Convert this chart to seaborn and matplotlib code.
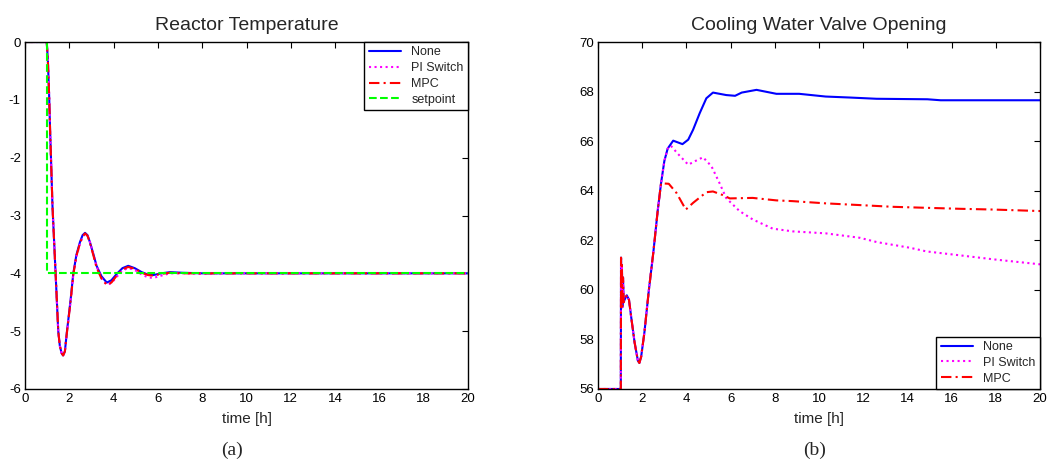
import matplotlib
matplotlib.use("Agg")
import matplotlib.pyplot as plt
import seaborn as sns

# ---- (a) reactor temperature ----
temp_t_none = [0, 0.98, 1.03, 1.09, 1.13, 1.18, 1.24, 1.32, 1.38, 1.44, 1.50, 1.57, 1.65, 1.72,
               1.80, 1.88, 1.97, 2.06, 2.18, 2.32, 2.48, 2.60, 2.71, 2.82, 2.93, 3.08, 3.23,
               3.45, 3.69, 3.90, 4.14, 4.40, 4.66, 4.95, 5.27, 5.55, 5.79, 6.15, 6.55, 7.10,
               8.0, 9.0, 20.0]
temp_none = [0, 0, -0.30, -0.94, -1.50, -2.10, -2.84, -3.50, -4.00, -4.50, -5.00, -5.25, -5.38,
             -5.42, -5.35, -5.05, -4.75, -4.45, -4.00, -3.68, -3.46, -3.34, -3.30, -3.34, -3.46,
             -3.66, -3.87, -4.05, -4.16, -4.12, -4.01, -3.91, -3.87, -3.91, -3.98, -4.02, -4.03,
             -4.00, -3.98, -3.99, -4.0, -4.0, -4.0]
temp_pi = [0, 0, -0.30, -0.94, -1.50, -2.10, -2.84, -3.50, -4.00, -4.50, -5.00, -5.25, -5.38,
           -5.42, -5.35, -5.06, -4.77, -4.48, -4.03, -3.71, -3.49, -3.37, -3.32, -3.35, -3.46,
           -3.66, -3.88, -4.08, -4.20, -4.17, -4.06, -3.95, -3.91, -3.94, -4.02, -4.07, -4.08,
           -4.04, -4.00, -4.00, -4.01, -4.0, -4.0]
temp_mpc = [0, 0, -0.30, -0.94, -1.50, -2.10, -2.84, -3.50, -4.00, -4.50, -5.00, -5.25, -5.38,
            -5.42, -5.35, -5.06, -4.77, -4.47, -4.02, -3.70, -3.48, -3.36, -3.31, -3.35, -3.47,
            -3.68, -3.90, -4.09, -4.20, -4.16, -4.04, -3.93, -3.89, -3.92, -3.99, -4.03, -4.04,
            -4.01, -3.99, -4.0, -4.0, -4.0, -4.0]
setpoint_t = [0, 1.0, 1.0, 20.0]
setpoint = [0, 0, -4.0, -4.0]

# ---- (b) cooling water valve opening ----
valve_t_start = [0, 1.03, 1.04, 1.06, 1.08, 1.10, 1.13, 1.16, 1.20, 1.30, 1.40, 1.50, 1.65,
                 1.80, 1.87, 1.95, 2.10, 2.30, 2.50, 2.70, 2.85, 3.00, 3.15]
valve_start = [56, 56, 61.3, 59.3, 61.0, 59.3, 60.5, 59.5, 59.6, 59.78, 59.6, 58.9, 57.9,
               57.15, 57.05, 57.3, 58.3, 60.0, 61.5, 63.2, 64.3, 65.2, 65.7]
valve_t_none = [3.40, 3.82, 4.08, 4.30, 4.60, 4.90, 5.20, 5.80, 6.20, 6.50, 7.17, 8.07, 9.10,
                10.3, 11.4, 12.6, 14.9, 15.5, 20.0]
valve_none = [66.02, 65.88, 66.06, 66.46, 67.13, 67.73, 67.96, 67.86, 67.83, 67.96, 68.07,
              67.91, 67.91, 67.80, 67.76, 67.71, 67.69, 67.65, 67.65]
valve_t_pi = [3.29, 3.60, 4.08, 4.45, 4.75, 5.13, 5.50, 5.80, 6.40, 7.00, 7.90, 8.80, 10.3,
              11.85, 12.6, 14.1, 14.87, 16.4, 17.9, 20.0]
valve_pi = [65.82, 65.50, 65.05, 65.22, 65.35, 64.99, 64.30, 63.70, 63.18, 62.84, 62.47,
            62.36, 62.28, 62.10, 61.93, 61.70, 61.55, 61.39, 61.23, 61.03]
valve_t_mpc = [3.20, 3.55, 3.97, 4.30, 4.90, 5.20, 5.66, 5.96, 7.00, 8.07, 8.80, 10.3, 11.85,
               13.36, 14.87, 16.4, 17.9, 20.0]
valve_mpc = [64.28, 63.91, 63.24, 63.51, 63.94, 63.97, 63.82, 63.69, 63.71, 63.61, 63.58,
             63.49, 63.42, 63.35, 63.31, 63.27, 63.24, 63.18]

sns.set_style("white")
plt.rcParams['font.family'] = ['Liberation Sans', 'DejaVu Sans']
plt.rcParams['axes.unicode_minus'] = False

fig = plt.figure(figsize=(10.47, 4.69), dpi=100)
ax1 = fig.add_axes([0.0239, 0.1706, 0.4231, 0.7398])
ax2 = fig.add_axes([0.5712, 0.1706, 0.4222, 0.7398])

blue, magenta, red, green = '#0000ff', '#ff00ff', '#ff0000', '#00ff00'
lw = 1.5
common = dict(estimator=None, sort=False, lw=lw)

sns.lineplot(x=temp_t_none, y=temp_none, ax=ax1, color=blue, label='None', **common)
sns.lineplot(x=temp_t_none, y=temp_pi, ax=ax1, color=magenta, linestyle=':', label='PI Switch', **common)
sns.lineplot(x=temp_t_none, y=temp_mpc, ax=ax1, color=red, linestyle=(0, (5, 2, 1, 2)), label='MPC', **common)
sns.lineplot(x=setpoint_t, y=setpoint, ax=ax1, color=green, linestyle='--', label='setpoint', **common)

t_none = valve_t_start + valve_t_none
t_pi = valve_t_start + valve_t_pi
t_mpc = valve_t_start[:-2] + valve_t_mpc
y_none = valve_start + valve_none
y_pi = valve_start + valve_pi
y_mpc = valve_start[:-2] + valve_mpc
sns.lineplot(x=t_none, y=y_none, ax=ax2, color=blue, label='None', **common)
sns.lineplot(x=t_pi, y=y_pi, ax=ax2, color=magenta, linestyle=':', label='PI Switch', **common)
sns.lineplot(x=t_mpc, y=y_mpc, ax=ax2, color=red, linestyle=(0, (5, 2, 1, 2)), label='MPC', **common)

ax1.set_xlim(0, 20)
ax1.set_ylim(-6, 0)
ax1.set_yticks(range(-6, 1))
ax2.set_xlim(0, 20)
ax2.set_ylim(56, 70)
ax2.set_yticks(range(56, 71, 2))

for ax, title in [(ax1, 'Reactor Temperature'), (ax2, 'Cooling Water Valve Opening')]:
    ax.set_xticks(range(0, 21, 2))
    ax.set_title(title, fontsize=14, pad=9)
    ax.set_xlabel('time [h]', fontsize=11, labelpad=5)
    ax.set_ylabel('')
    ax.tick_params(direction='in', top=True, right=True, length=4, width=0.8,
                   labelsize=9.5, colors='black', pad=3)
    for sp in ax.spines.values():
        sp.set_visible(True)
        sp.set_color('black')
        sp.set_linewidth(1.0)

leg1 = ax1.legend(loc='upper right', fontsize=9, fancybox=False, edgecolor='black',
                  framealpha=1, borderaxespad=0, handlelength=2.6, labelspacing=0.3,
                  borderpad=0.35)
leg2 = ax2.legend(loc='lower right', fontsize=9, fancybox=False, edgecolor='black',
                  framealpha=1, borderaxespad=0, handlelength=2.6, labelspacing=0.3,
                  borderpad=0.35)
for leg in (leg1, leg2):
    leg.get_frame().set_linewidth(1.0)

fig.text(0.222, 0.03, '(a)', fontsize=14, family=['Liberation Serif'], ha='center')
fig.text(0.778, 0.03, '(b)', fontsize=14, family=['Liberation Serif'], ha='center')

fig.savefig('out.png', dpi=100)
